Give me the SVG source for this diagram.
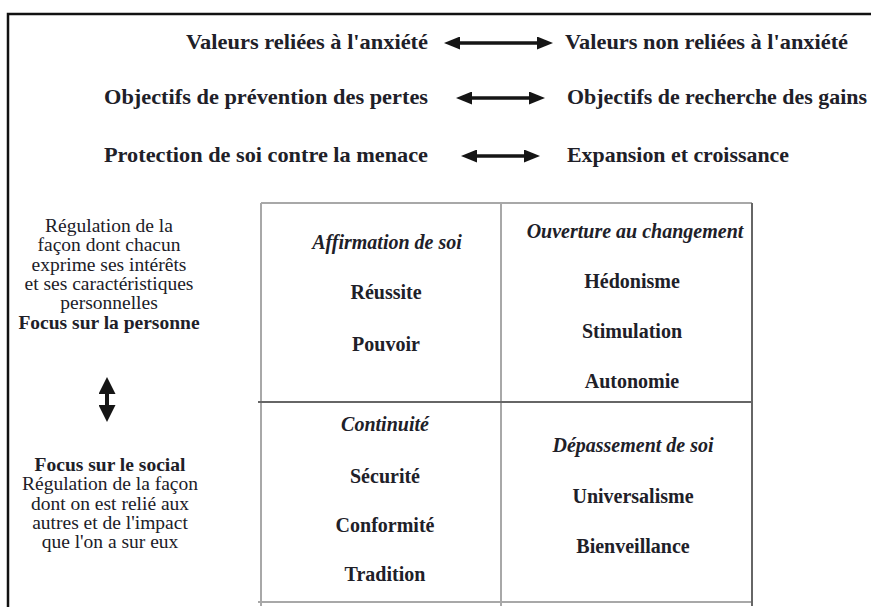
<svg xmlns="http://www.w3.org/2000/svg" width="871" height="607" viewBox="0 0 871 607">
<style>
text{font-family:"Liberation Serif","Times New Roman",serif;fill:#202028}
.h{font-size:22px;font-weight:bold}
.c{font-size:20px;font-weight:bold;text-anchor:middle}
.ci{font-size:20px;font-weight:bold;font-style:italic;text-anchor:middle}
.l{font-size:19.5px;text-anchor:middle}
.lb{font-size:19.5px;font-weight:bold;text-anchor:middle}
.grid{stroke:#a8a8a8;stroke-width:2;fill:none}
.gridd{stroke:#666;stroke-width:2;fill:none}
.arr{stroke:#151515;stroke-width:3.5;fill:none;marker-start:url(#ah);marker-end:url(#ah)}
</style>
<defs>
<marker id="ah" viewBox="0 0 16 13" refX="9" refY="6.5" markerWidth="16" markerHeight="13" markerUnits="userSpaceOnUse" orient="auto-start-reverse">
<path d="M0,0 L16,6.5 L0,13 z" fill="#151515"/>
</marker>
<marker id="av" viewBox="0 0 17 17" refX="10" refY="8.5" markerWidth="17" markerHeight="17" markerUnits="userSpaceOnUse" orient="auto-start-reverse">
<path d="M0,0 L17,8.5 L0,17 z" fill="#151515"/>
</marker>
</defs>
<rect width="871" height="607" fill="#fff"/>
<g id="frame">
<path d="M8,607 V14 H871" stroke="#111" stroke-width="2.5" fill="none"/>
</g>
<g id="grid">
<path class="grid" d="M261,203 H752 M261,203 V606 M501,203 V606 M258,602 H752"/>
<path class="gridd" d="M752,203 V606 M258,402 H752"/>
</g>
<g id="row1">
<text class="h" text-anchor="end" x="428" y="49" textLength="242" lengthAdjust="spacingAndGlyphs">Valeurs reliées à l'anxiété</text>
<text class="h" x="565" y="49" textLength="283" lengthAdjust="spacingAndGlyphs">Valeurs non reliées à l'anxiété</text>
</g>
<g id="row2">
<text class="h" text-anchor="end" x="428" y="104" textLength="324" lengthAdjust="spacingAndGlyphs">Objectifs de prévention des pertes</text>
<text class="h" x="567" y="104" textLength="300" lengthAdjust="spacingAndGlyphs">Objectifs de recherche des gains</text>
</g>
<g id="row3">
<text class="h" text-anchor="end" x="428" y="162" textLength="324" lengthAdjust="spacingAndGlyphs">Protection de soi contre la menace</text>
<text class="h" x="567" y="162" textLength="222" lengthAdjust="spacingAndGlyphs">Expansion et croissance</text>
</g>
<g id="left-top">
<text class="l" x="109" y="232">Régulation de la</text>
<text class="l" x="109" y="251">façon dont chacun</text>
<text class="l" x="109" y="271">exprime ses intérêts</text>
<text class="l" x="109" y="290">et ses caractéristiques</text>
<text class="l" x="109" y="309">personnelles</text>
<text class="lb" x="109" y="329">Focus sur la personne</text>
</g>
<g id="left-bottom">
<text class="lb" x="110" y="471">Focus sur le social</text>
<text class="l" x="110" y="490">Régulation de la façon</text>
<text class="l" x="110" y="510">dont on est relié aux</text>
<text class="l" x="110" y="529">autres et de l'impact</text>
<text class="l" x="110" y="548">que l'on a sur eux</text>
</g>
<g id="cell-affirmation">
<text class="ci" x="387" y="249">Affirmation de soi</text>
<text class="c" x="386" y="299">Réussite</text>
<text class="c" x="386" y="351">Pouvoir</text>
</g>
<g id="cell-ouverture">
<text class="ci" x="635" y="238">Ouverture au changement</text>
<text class="c" x="632" y="288">Hédonisme</text>
<text class="c" x="632" y="338">Stimulation</text>
<text class="c" x="632" y="388">Autonomie</text>
</g>
<g id="cell-continuite">
<text class="ci" x="385" y="431">Continuité</text>
<text class="c" x="385" y="483">Sécurité</text>
<text class="c" x="385" y="532">Conformité</text>
<text class="c" x="385" y="581">Tradition</text>
</g>
<g id="cell-depassement">
<text class="ci" x="633" y="452">Dépassement de soi</text>
<text class="c" x="633" y="503">Universalisme</text>
<text class="c" x="633" y="553">Bienveillance</text>
</g>
<g id="connectors">
<line class="arr" x1="451" y1="43" x2="546" y2="43"/>
<line class="arr" x1="463" y1="98" x2="538" y2="98"/>
<line class="arr" x1="468" y1="156" x2="533" y2="156"/>
<line class="arr" x1="107" y1="384" x2="107" y2="415" style="marker-start:url(#av);marker-end:url(#av);stroke-width:4"/>
</g>
</svg>
